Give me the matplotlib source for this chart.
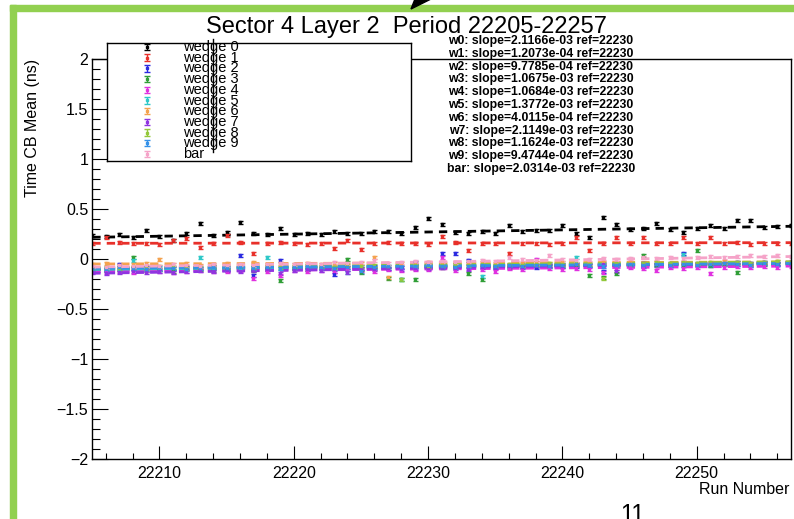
import numpy as np
import matplotlib.pyplot as plt
from matplotlib.patches import Rectangle, Polygon
from matplotlib.lines import Line2D
from matplotlib.ticker import MultipleLocator, FuncFormatter

plt.rcParams['font.family'] = ['Liberation Sans', 'DejaVu Sans']

# runs 22205 .. 22257
runs = np.arange(22205, 22258)
ref_run = 22230
err = 0.015

names = ["w0", "w1", "w2", "w3", "w4", "w5", "w6", "w7", "w8", "w9", "bar"]
labels = ["wedge 0", "wedge 1", "wedge 2", "wedge 3", "wedge 4", "wedge 5",
          "wedge 6", "wedge 7", "wedge 8", "wedge 9", "bar"]
colors = ["#000000", "#e8302a", "#2a2ae0", "#2f9e36", "#e030e0", "#2ec8c8",
          "#f4a24e", "#8f35e0", "#93c83a", "#3591e8", "#f5a3c8"]
slopes = [2.1166e-03, 1.2073e-04, 9.7785e-04, 1.0675e-03, 1.0684e-03, 1.3772e-03,
          4.0115e-04, 2.1149e-03, 1.1624e-03, 9.4744e-04, 2.0314e-03]
# fit value at the reference run
offsets = [0.27, 0.16, -0.07, -0.08, -0.10, -0.07, -0.04, -0.09, -0.06, -0.07, -0.03]

w0 = [0.24, 0.23, 0.25, 0.22, 0.29, 0.23, 0.19, 0.26, 0.36, 0.24,
      0.27, 0.37, 0.26, 0.25, 0.31, 0.25, 0.26, 0.25, 0.28, 0.26,
      0.26, 0.28, 0.28, 0.26, 0.32, 0.41, 0.35, 0.27, 0.26, 0.28,
      0.26, 0.34, 0.28, 0.29, 0.29, 0.34, 0.26, 0.22, 0.42, 0.35,
      0.30, 0.31, 0.36, 0.30, 0.27, 0.31, 0.34, 0.31, 0.39, 0.39,
      0.32, 0.33, 0.34]
w1 = [0.16, 0.22, 0.17, 0.16, 0.16, 0.15, 0.19, 0.21, 0.12, 0.16,
      0.24, 0.17, 0.06, 0.16, 0.17, 0.16, 0.15, 0.16, 0.11, 0.19,
      0.10, 0.16, 0.17, 0.16, 0.16, 0.15, 0.23, 0.17, 0.09, 0.16,
      0.16, 0.06, 0.16, 0.16, 0.15, 0.16, 0.22, 0.09, 0.16, 0.22,
      0.16, 0.22, 0.16, 0.16, 0.22, 0.16, 0.22, 0.16, 0.17, 0.15,
      0.16, 0.16, 0.16]
w2 = [-0.09, -0.10, -0.05, -0.09, -0.08, -0.10, -0.09, -0.08, -0.09, -0.07,
      -0.10, 0.04, -0.16, -0.09, -0.01, -0.09, -0.08, -0.09, -0.15, -0.08,
      -0.09, -0.07, -0.09, -0.08, -0.03, -0.08, 0.06, 0.06, -0.01, -0.07,
      -0.08, -0.06, -0.07, -0.08, -0.06, -0.05, -0.07, -0.06, -0.12, -0.05,
      -0.06, -0.07, -0.05, -0.06, 0.06, -0.05, -0.06, -0.04, -0.05, -0.06,
      -0.04, -0.05, -0.04]
w3 = [-0.10, -0.11, -0.10, 0.02, -0.11, -0.10, -0.12, -0.09, -0.10, -0.11,
      -0.10, -0.09, -0.11, -0.10, -0.21, -0.09, -0.10, -0.08, -0.09, 0.00,
      -0.13, -0.09, -0.19, -0.20, -0.20, -0.08, -0.08, -0.07, -0.14, -0.20,
      -0.07, -0.08, -0.07, -0.06, -0.07, -0.07, -0.06, -0.16, -0.18, -0.14,
      -0.06, 0.04, -0.06, -0.05, -0.06, 0.09, -0.06, -0.05, -0.13, -0.05,
      -0.05, -0.04, -0.05]
w4 = [-0.12, -0.13, -0.12, -0.13, -0.11, -0.12, -0.13, -0.12, -0.11, -0.12,
      -0.12, -0.11, -0.19, -0.12, -0.16, -0.11, -0.12, -0.11, -0.12, -0.10,
      -0.11, -0.12, -0.10, -0.11, -0.10, -0.10, 0.02, -0.11, -0.09, -0.10,
      -0.12, -0.09, -0.10, 0.00, -0.09, -0.10, -0.09, -0.10, -0.13, -0.09,
      -0.08, -0.09, -0.11, -0.08, -0.09, -0.08, -0.14, -0.08, -0.07, -0.08,
      -0.07, -0.08, -0.07]
w5 = [-0.10, -0.09, -0.10, -0.01, -0.09, -0.10, -0.08, -0.09, 0.02, -0.09,
      -0.08, -0.09, -0.08, 0.02, -0.09, -0.08, -0.08, -0.09, -0.08, -0.13,
      -0.07, -0.08, -0.07, -0.20, -0.07, -0.06, -0.07, -0.08, -0.06, -0.17,
      -0.06, -0.06, -0.05, -0.06, -0.05, -0.06, 0.02, -0.05, -0.04, -0.05,
      -0.05, -0.04, -0.05, -0.04, 0.05, -0.04, -0.05, -0.04, -0.03, -0.04,
      -0.03, -0.04, -0.03]
w6 = [-0.05, -0.04, -0.06, -0.05, -0.04, 0.00, -0.05, -0.04, -0.06, -0.05,
      -0.04, -0.05, -0.03, -0.05, -0.04, -0.05, -0.04, -0.05, -0.04, -0.05,
      -0.04, 0.02, -0.18, -0.04, -0.05, -0.03, -0.04, -0.05, -0.04, -0.03,
      -0.04, -0.05, -0.04, -0.03, -0.04, -0.03, -0.05, -0.04, -0.03, -0.04,
      -0.03, -0.04, -0.03, -0.04, -0.03, -0.04, -0.03, -0.02, -0.03, -0.04,
      -0.03, -0.02, -0.03]
w7 = [-0.13, -0.14, -0.13, -0.12, -0.13, -0.12, -0.13, -0.12, -0.11, -0.12,
      -0.11, -0.12, -0.11, -0.10, -0.14, -0.11, -0.10, -0.11, -0.10, -0.13,
      -0.09, -0.10, -0.09, -0.10, -0.09, -0.09, -0.08, -0.09, -0.10, -0.08,
      -0.08, -0.07, -0.08, -0.07, -0.06, -0.07, -0.05, -0.06, -0.05, -0.12,
      -0.05, -0.04, -0.05, -0.06, -0.04, -0.05, -0.04, -0.04, -0.03, -0.04,
      -0.03, -0.04, -0.03]
w8 = [-0.09, -0.08, -0.09, -0.08, -0.09, -0.07, -0.08, -0.09, -0.08, -0.07,
      -0.08, -0.07, -0.08, -0.07, -0.08, -0.07, -0.06, -0.07, -0.08, -0.06,
      -0.07, -0.06, -0.07, -0.20, -0.06, -0.07, -0.06, -0.05, -0.06, -0.05,
      -0.06, -0.05, -0.06, -0.05, -0.04, -0.05, -0.04, -0.05, -0.19, -0.04,
      -0.05, -0.04, -0.03, -0.04, -0.03, -0.04, -0.03, -0.04, -0.03, -0.04,
      -0.03, -0.02, -0.03]
w9 = [-0.09, -0.10, -0.08, -0.09, -0.10, -0.08, -0.09, -0.10, -0.09, -0.08,
      -0.09, -0.08, -0.09, -0.08, -0.09, -0.08, -0.07, -0.08, -0.09, -0.08,
      -0.12, -0.08, -0.07, -0.08, -0.07, -0.06, -0.07, -0.08, -0.07, -0.06,
      -0.07, -0.06, -0.07, -0.06, -0.07, -0.06, -0.05, -0.06, -0.07, -0.06,
      -0.05, -0.06, -0.05, -0.06, -0.05, -0.06, -0.05, -0.04, -0.05, -0.06,
      -0.04, -0.05, -0.04]
bar = [-0.07, -0.08, -0.06, -0.07, -0.06, -0.07, -0.05, -0.06, -0.07, -0.05,
       -0.06, -0.05, -0.06, -0.05, -0.04, -0.05, -0.04, -0.05, -0.03, -0.04,
       -0.03, -0.01, -0.04, -0.03, -0.02, -0.03, -0.02, -0.03, -0.02, -0.01,
       -0.02, 0.02, 0.00, -0.01, 0.04, 0.00, -0.01, 0.00, 0.01, 0.00,
       0.01, 0.02, 0.01, 0.02, 0.01, 0.02, 0.03, 0.02, 0.03, 0.04,
       0.03, 0.04, 0.03]
series = [w0, w1, w2, w3, w4, w5, w6, w7, w8, w9, bar]

W, H = 794, 519


def fx(px):
    return px / W


def fy(py):
    return 1 - py / H


fig = plt.figure(figsize=(W / 100, H / 100), dpi=100)

ax = fig.add_axes([fx(92.3), fy(459), (790.7 - 92.3) / W, (459 - 59) / H])
xfit = np.array([runs[0], runs[-1]])
for vals, col, s, c0 in zip(series, colors, slopes, offsets):
    ax.errorbar(runs, vals, yerr=err, fmt='s', ms=1.6, color=col, ecolor=col,
                elinewidth=1, capsize=1.8, capthick=1)
    ax.plot(xfit, c0 + s * (xfit - ref_run), color=col, lw=2, ls=(0, (3, 2.2)))

ax.set_xlim(22205, 22257)
ax.set_ylim(-2, 2)
ax.xaxis.set_major_locator(MultipleLocator(10))
ax.xaxis.set_minor_locator(MultipleLocator(2))
ax.yaxis.set_major_locator(MultipleLocator(0.5))
ax.yaxis.set_minor_locator(MultipleLocator(0.1))
ax.xaxis.set_major_formatter(FuncFormatter(lambda v, p: "%d" % round(v)))
ax.yaxis.set_major_formatter(FuncFormatter(lambda v, p: ("%g" % v).replace("-", "\u2212")))
ax.tick_params(which='both', direction='in', top=False, right=False,
               labelsize=11.5, width=0.8, color='black')
ax.tick_params(axis='y', which='major', length=11.5, pad=3)
ax.tick_params(axis='y', which='minor', length=5.8)
ax.tick_params(axis='x', which='major', length=9.4, pad=5)
ax.tick_params(axis='x', which='minor', length=4.5)
for sp in ax.spines.values():
    sp.set_linewidth(1)

fig.text(fx(407), fy(33), "Sector 4 Layer 2  Period 22205-22257",
         ha='center', va='baseline', fontsize=17)
fig.text(fx(33), fy(59), "Time CB Mean (ns)", rotation=90,
         ha='center', va='top', fontsize=11.5)
fig.text(fx(789), fy(490), "Run Number", ha='right', va='center', fontsize=11.5)

# legend box
leg = fig.add_axes([fx(107), fy(161), (411 - 107) / W, (161 - 43) / H])
leg.set_xlim(0, 304)
leg.set_ylim(118, 0)
leg.set_xticks([])
leg.set_yticks([])
for sp in leg.spines.values():
    sp.set_linewidth(1)
for i, (lab, col) in enumerate(zip(labels, colors)):
    y = 4 + 10.7 * i
    leg.errorbar([40], [y], yerr=3.2, fmt='s', ms=1.6, color=col, ecolor=col,
                 elinewidth=1, capsize=2.2, capthick=1)
    leg.text(76, y, lab, ha='left', va='center', fontsize=10.5, clip_on=False)
fig.add_artist(Line2D([fx(213), fx(213)], [fy(39), fy(152)], color='black', lw=1))

# slope summary
for k, (nm, s) in enumerate(zip(names, slopes)):
    fig.text(fx(541), fy(41 + 12.8 * k), "%s: slope=%.4e ref=%d" % (nm, s, ref_run),
             ha='center', va='center', fontsize=8.8, fontweight='bold')

# slide decorations
green = '#92d050'
fig.add_artist(Rectangle((fx(10), fy(11)), 1 - fx(10), 6 / H, color=green,
                         transform=fig.transFigure))
fig.add_artist(Rectangle((fx(10), 0), 6 / W, fy(5), color=green,
                         transform=fig.transFigure))
fig.add_artist(Polygon([(fx(411), fy(9)), (fx(415), fy(-1)), (fx(431), fy(-1))],
                       closed=True, color='black', transform=fig.transFigure))
fig.text(fx(632), fy(504), "11", ha='center', va='top', fontsize=17)

fig.savefig("out.png", dpi=100)
